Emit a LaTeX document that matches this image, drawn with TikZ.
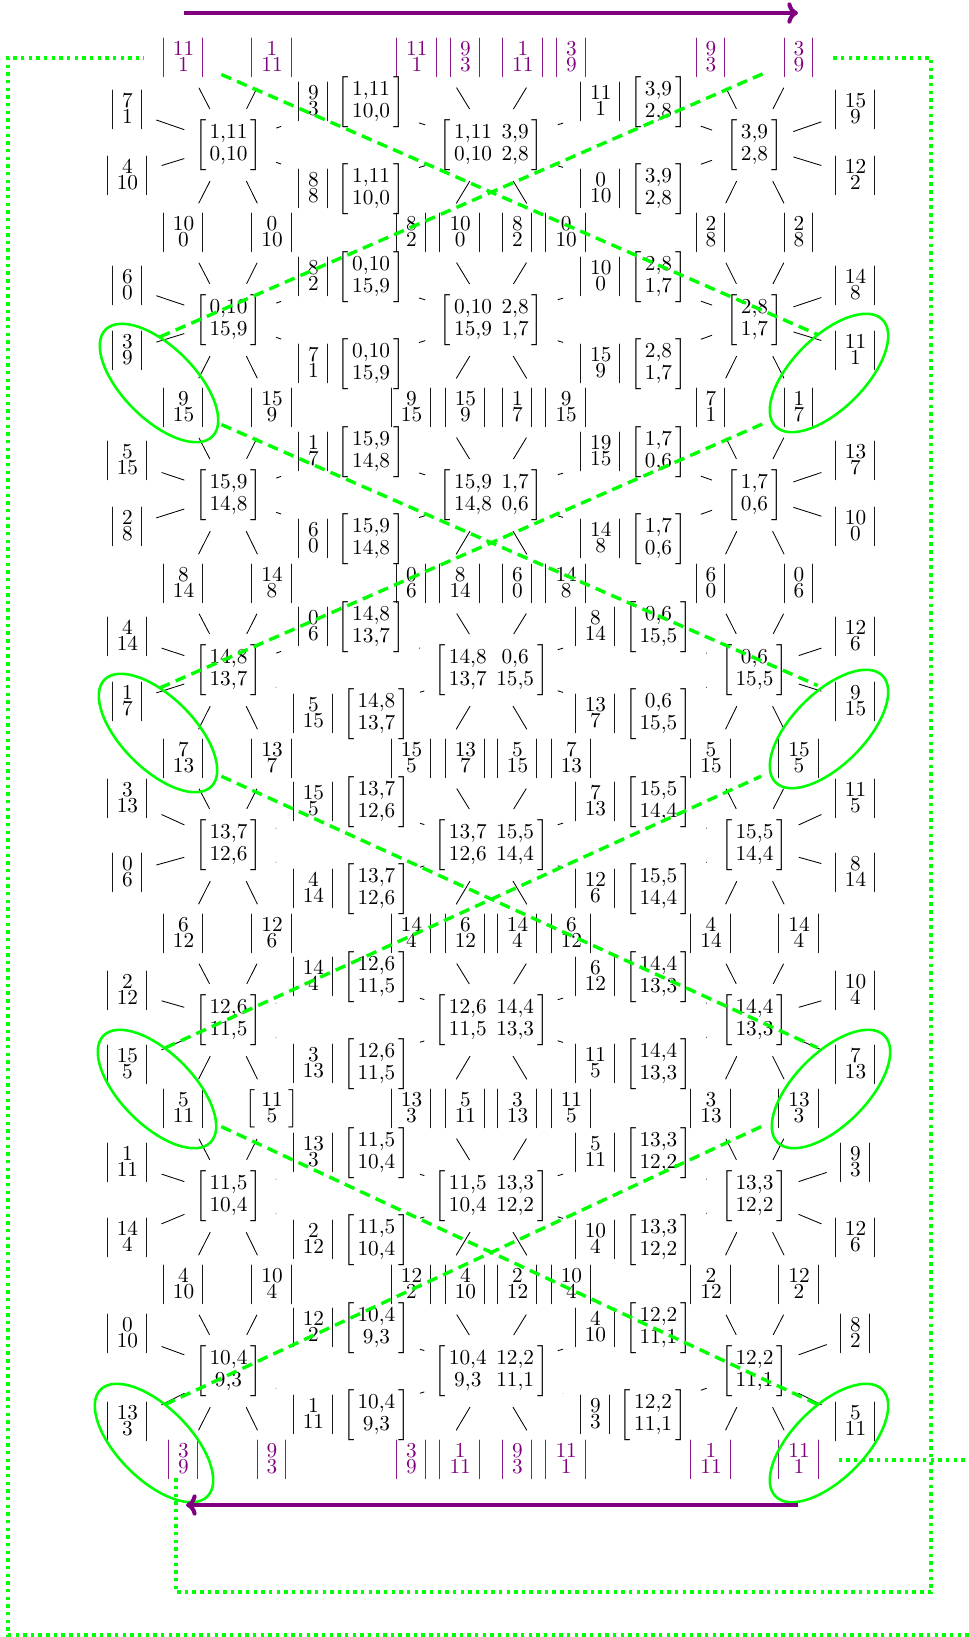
\documentclass[tikz,border=0pt]{standalone}
\usetikzlibrary{arrows.meta,shapes.geometric}
\mathcode`\,="013B
\newcommand{\lv}[2]{{\renewcommand{\arraystretch}{0.35}\left|\begin{array}{@{\hspace{2.6pt}}c@{\hspace{2.6pt}}}#1\\#2\end{array}\right|}}
\newcommand{\lk}[2]{{\renewcommand{\arraystretch}{0.35}\left[\begin{array}{@{\hspace{2.6pt}}c@{\hspace{2.6pt}}}#1\\#2\end{array}\right]}}
\newcommand{\lvv}[4]{\lv{#1}{#2}\hspace{3.5pt}\lv{#3}{#4}}
\newcommand{\mt}[2]{{\renewcommand{\arraystretch}{0.85}\left[\begin{array}{@{\hspace{1.5pt}}c@{\hspace{1.5pt}}}#1\\#2\end{array}\right]}}
\newcommand{\mq}[4]{{\renewcommand{\arraystretch}{0.85}\left[\begin{array}{@{\hspace{1.5pt}}c@{\hspace{4.5pt}}c@{\hspace{1.5pt}}}#1&#2\\#3&#4\end{array}\right]}}

\begin{document}
\begin{tikzpicture}[x=0.47pt,y=-0.47pt,
  lab/.style={inner sep=3pt},
  mat/.style={inner sep=3pt},
  spoke/.style={shorten <=2pt,shorten >=2pt},
  tick/.style={shorten <=3.8pt,shorten >=3.8pt},
  gdash/.style={green,line width=1.6pt,dash pattern=on 5pt off 3pt,shorten <=4pt,shorten >=4pt},
  oval/.style={draw=green,very thick,ellipse,minimum width=71pt,minimum height=34pt,inner sep=0pt},
  gdot/.style={green,line width=1.6pt,dotted,shorten <=4.5pt,shorten >=4.5pt},
  parrow/.style={violet,line width=1.9pt,-{Computer Modern Rightarrow[length=5pt,width=10pt]}}]
\useasboundingbox (0,0) rectangle (969,1637);

\foreach \i/\y/\cl/\ta/\tb/\tc/\td/\te/\tf in {
  0/58/violet/{\lv{11}{1}}/{\lv{1}{11}}/{\lvv{11}{1}{9}{3}}/{\lvv{1}{11}{3}{9}}/{\lv{9}{3}}/{\lv{3}{9}},
  1/233/black/{\lv{10}{0}}/{\lv{0}{10}}/{\lvv{8}{2}{10}{0}}/{\lvv{8}{2}{0}{10}}/{\lv{2}{8}}/{\lv{2}{8}},
  2/408/black/{\lv{9}{15}}/{\lv{15}{9}}/{\lvv{9}{15}{15}{9}}/{\lvv{1}{7}{9}{15}}/{\lv{7}{1}}/{\lv{1}{7}},
  3/584/black/{\lv{8}{14}}/{\lv{14}{8}}/{\lvv{0}{6}{8}{14}}/{\lvv{6}{0}{14}{8}}/{\lv{6}{0}}/{\lv{0}{6}},
  4/759/black/{\lv{7}{13}}/{\lv{13}{7}}/{\lvv{15}{5}{13}{7}}/{\lvv{5}{15}{7}{13}}/{\lv{5}{15}}/{\lv{15}{5}},
  5/934/black/{\lv{6}{12}}/{\lv{12}{6}}/{\lvv{14}{4}{6}{12}}/{\lvv{14}{4}{6}{12}}/{\lv{4}{14}}/{\lv{14}{4}},
  6/1109/black/{\lv{5}{11}}/{\lk{11}{5}}/{\lvv{13}{3}{5}{11}}/{\lvv{3}{13}{11}{5}}/{\lv{3}{13}}/{\lv{13}{3}},
  7/1285/black/{\lv{4}{10}}/{\lv{10}{4}}/{\lvv{12}{2}{4}{10}}/{\lvv{2}{12}{10}{4}}/{\lv{2}{12}}/{\lv{12}{2}},
  8/1460/violet/{\lv{3}{9}}/{\lv{9}{3}}/{\lvv{3}{9}{1}{11}}/{\lvv{9}{3}{11}{1}}/{\lv{1}{11}}/{\lv{11}{1}}}{
  \node[lab,text=\cl] (r\i a) at (183.5,\y) {$\ta$};
  \node[lab,text=\cl] (r\i b) at (272,\y) {$\tb$};
  \node[lab,text=\cl] (r\i c) at (438.5,\y) {$\tc$};
  \node[lab,text=\cl] (r\i d) at (544.5,\y) {$\td$};
  \node[lab,text=\cl] (r\i e) at (711,\y) {$\te$};
  \node[lab,text=\cl] (r\i f) at (799,\y) {$\tf$};
}

\foreach \k/\y/\ua/\ub/\ma/\mb/\mc/\md/\me/\sa/\sbb/\scc/\sdd/\pa/\pb/\pc/\pd in {
  1/145/35/31/{1,11}/{0,10}/{3,9}/{2,8}/{10,0}/{\lv{7}{1}}/{\lv{4}{10}}/{\lv{15}{9}}/{\lv{12}{2}}/{\lv{9}{3}}/{\lv{8}{8}}/{\lv{11}{1}}/{\lv{0}{10}},
  2/320/34/31/{0,10}/{15,9}/{2,8}/{1,7}/{15,9}/{\lv{6}{0}}/{\lv{3}{9}}/{\lv{14}{8}}/{\lv{11}{1}}/{\lv{8}{2}}/{\lv{7}{1}}/{\lv{10}{0}}/{\lv{15}{9}},
  3/495/34/32/{15,9}/{14,8}/{1,7}/{0,6}/{14,8}/{\lv{5}{15}}/{\lv{2}{8}}/{\lv{13}{7}}/{\lv{10}{0}}/{\lv{1}{7}}/{\lv{6}{0}}/{\lv{19}{15}}/{\lv{14}{8}},
  4/670/33/32/{14,8}/{13,7}/{0,6}/{15,5}/{13,7}/{\lv{4}{14}}/{\lv{1}{7}}/{\lv{12}{6}}/{\lv{9}{15}}/{\lv{0}{6}}/{\lv{5}{15}}/{\lv{8}{14}}/{\lv{13}{7}},
  5/845/46/28/{13,7}/{12,6}/{15,5}/{14,4}/{12,6}/{\lv{3}{13}}/{\lv{0}{6}}/{\lv{11}{5}}/{\lv{8}{14}}/{\lv{15}{5}}/{\lv{4}{14}}/{\lv{7}{13}}/{\lv{12}{6}},
  6/1020/29/45/{12,6}/{11,5}/{14,4}/{13,3}/{11,5}/{\lv{2}{12}}/{\lv{15}{5}}/{\lv{10}{4}}/{\lv{7}{13}}/{\lv{14}{4}}/{\lv{3}{13}}/{\lv{6}{12}}/{\lv{11}{5}},
  7/1196/33/42/{11,5}/{10,4}/{13,3}/{12,2}/{10,4}/{\lv{1}{11}}/{\lv{14}{4}}/{\lv{9}{3}}/{\lv{12}{6}}/{\lv{13}{3}}/{\lv{2}{12}}/{\lv{5}{11}}/{\lv{10}{4}},
  8/1371/37/51/{10,4}/{9,3}/{12,2}/{11,1}/{9,3}/{\lv{0}{10}}/{\lv{13}{3}}/{\lv{8}{2}}/{\lv{5}{11}}/{\lv{12}{2}}/{\lv{1}{11}}/{\lv{4}{10}}/{\lv{9}{3}}}{
  \node[mat] (lm\k) at (228.5,\y) {$\mt{\ma}{\mb}$};
  \node[mat] (cm\k) at (491.5,\y) {$\mq{\ma}{\mc}{\mb}{\md}$};
  \node[mat] (rm\k) at (754.5,\y) {$\mt{\mc}{\md}$};
  \node[mat] (pa\k) at (350,\y-43) {$\pa\hspace{3pt}\mt{\ma}{\me}$};
  \node[mat] (pb\k) at (350,\y+44) {$\pb\hspace{3pt}\mt{\ma}{\me}$};
  \node[mat] (pc\k) at (632,\y-43) {$\pc\hspace{3pt}\mt{\mc}{\md}$};
  \node[mat] (pd\k) at (632,\y+44) {$\pd\hspace{3pt}\mt{\mc}{\md}$};
  \node[lab] (sa\k) at (127.5,\y-\ua) {$\sa$};
  \node[lab] (sb\k) at (127.5,\y+\ub) {$\sbb$};
  \node[lab] (sc\k) at (855.5,\y-\ua) {$\scc$};
  \node[lab] (sd\k) at (855.5,\y+\ub) {$\sdd$};
}

\foreach \k [count=\j from 0] in {1,...,8}{
  \foreach \n in {r\j a,r\j b,r\k a,r\k b,sa\k,sb\k} \draw[spoke] (lm\k) -- (\n);
  \foreach \n in {r\j c,r\j d,r\k c,r\k d} \draw[spoke] (cm\k) -- (\n);
  \foreach \n in {r\j e,r\j f,r\k e,r\k f,sc\k,sd\k} \draw[spoke] (rm\k) -- (\n);
  \foreach \m/\n in {lm/pa,lm/pb,cm/pa,cm/pb,cm/pc,cm/pd,rm/pc,rm/pd} \draw[tick] (\m\k) -- (\n\k);
}

\foreach \u/\v in {r0a/sd2,sb2/r0f,r2a/sd4,sb4/r2f,r4a/sd6,sb6/r4f,r6a/sd8,sb8/r6f}
  \draw[gdash] (\u) -- (\v);

\foreach \x/\y/\r [count=\n] in {159/383/-45,158/733/-45,157/1089/-45,154/1443/-45,829/373/45,829/729/45,831/1089/45,829/1443/45}
  \node[oval,rotate=\r] (ov\n) at (\x,\y) {};

\coordinate (q1) at (931,1592);
\coordinate (q2) at (176,1468);
\coordinate (q3) at (1000,1635);
\coordinate (q4) at (8,58);
\draw[gdot] (r0f) -| (q1) -| (q2);
\draw[gdot] (r8f) -| (q3) -| (q4) -- (r0a);

\coordinate (t1) at (184,13);
\coordinate (t2) at (798,13);
\coordinate (b1) at (798,1505);
\coordinate (b2) at (186,1505);
\draw[parrow] (t1) -- (t2);
\draw[parrow] (b1) -- (b2);
\end{tikzpicture}
\end{document}
